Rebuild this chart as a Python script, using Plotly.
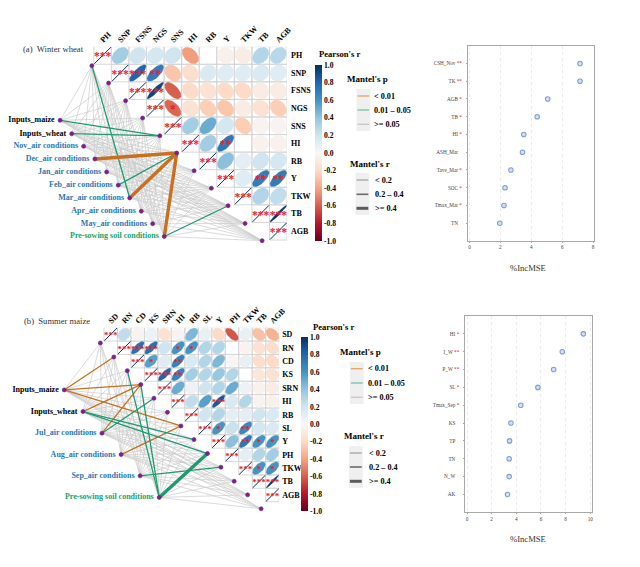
import numpy as np
import plotly.graph_objects as go

W, H = 640, 567
SERIF = "Liberation Serif"
STOPS = ["#67001f", "#b2182b", "#d6604d", "#f4a582", "#fddbc7", "#f7f7f7",
         "#d1e5f0", "#92c5de", "#4393c3", "#2166ac", "#053061"]
GREY, ORANGE, GREEN = "#cbcbcb", "#c8701f", "#1f9a70"
AIR, SOIL = "#2b78b5", "#18a36a"

# ---------- panel (a) winter wheat ----------
a_vars = ["PH", "SNP", "FSNS", "NGS", "SNS", "HI", "RB", "Y", "TKW", "TB", "AGB"]
a_r = [
    [.35, .20, .18, .20, -.42, 0, -.05, -.08, .30, .28],
    [.80, .70, -.28, -.18, .15, .12, .12, .15, .12],
    [.92, -.60, -.20, -.15, -.20, -.20, -.08, -.08],
    [-.58, -.15, -.25, -.28, -.08, -.15, -.25],
    [.35, .50, .18, -.25, -.03, -.03],
    [.35, .72, 0, -.04, -.04],
    [.42, .10, .20, .18],
    [.12, .70, .70],
    [.30, .25],
    [.97],
]
a_stars = {(1, 2): "***", (1, 3): "**", (2, 3): "***", (3, 4): "*", (5, 7): "**",
           (7, 9): "**", (7, 10): "**", (9, 10): "***"}
a_env = ["Inputs_maize", "Inputs_wheat", "Nov_air conditions", "Dec_air conditions",
         "Jan_air conditions", "Feb_air conditions", "Mar_air conditions",
         "Apr_air conditions", "May_air conditions", "Pre-sowing soil conditions"]
a_env_x = [-1.92, -1.26, -0.58, 0.06, 0.73, 1.39, 2.04, 2.70, 3.35, 4.01]
a_env_y = [4.19, 4.95, 5.67, 6.39, 7.13, 7.88, 8.61, 9.36, 10.07, 10.80]
a_spec_x = [-0.11, 0.84, 1.81, 2.78, 3.76, 4.72, 5.71, 6.69, 7.64, 8.61, 9.58]
a_spec_y = [1.08, 2.07, 3.07, 4.06, 5.07, 6.05, 7.06, 8.05, 9.05, 10.06, 11.04]
# (environment, variable, p class, r class)
a_links = [(6, 0, 1, 1), (0, 4, 1, 1), (1, 4, 1, 1), (3, 5, 0, 2), (5, 5, 1, 1),
           (6, 5, 0, 2), (9, 5, 0, 2), (9, 8, 1, 1)]
a_imp = ["CSH_Nov", "TK", "AGB", "TB", "HI", "ASH_Mar", "Tave_Mar", "SOC", "Tmax_Mar", "TN"]
a_imp_sig = ["**", "**", "*", "*", "*", "", "*", "*", "*", ""]
a_imp_val = [7.15, 7.15, 5.06, 4.38, 3.51, 3.43, 2.68, 2.30, 2.23, 1.96]

# ---------- panel (b) summer maize ----------
b_vars = ["SD", "RN", "CD", "KS", "SRN", "HI", "RB", "SL", "Y", "PH", "TKW", "TB", "AGB"]
b_r = [
    [.25, -.03, .06, -.15, -.03, .45, .08, -.20, -.62, .08, -.30, -.35],
    [.75, .75, .20, .60, .60, .30, .30, 0, -.03, -.15, -.18],
    [.55, .12, .68, .15, .30, .45, -.02, .08, -.18, -.20],
    [.80, .68, .35, .30, .38, .30, 0, -.12, -.15],
    [.50, .05, .20, .30, .50, .05, -.04, -.08],
    [.25, .55, .85, .15, .30, -.03, -.05],
    [.20, .30, .10, .10, .20, .15],
    [.60, .22, .65, .18, .15],
    [.42, .72, .60, .60],
    [.10, .30, .35],
    [.60, .60],
    [.97],
]
b_stars = {(1, 2): "***", (1, 3): "***", (1, 5): "*", (1, 6): "*", (2, 3): "*", (2, 5): "**",
           (3, 4): "***", (3, 5): "**", (5, 8): "***", (7, 8): "*", (7, 10): "**", (8, 10): "**",
           (8, 11): "*", (8, 12): "*", (10, 11): "*", (10, 12): "*", (11, 12): "***"}
b_env = ["Inputs_maize", "Inputs_wheat", "Jul_air conditions", "Aug_air conditions",
         "Sep_air conditions", "Pre-sowing soil conditions"]
b_env_x = [-2.95, -1.56, -0.15, 1.27, 2.68, 4.10]
b_env_y = [4.65, 6.27, 7.88, 9.48, 11.07, 12.68]
b_spec_x = [-0.27, 0.73, 1.73, 2.73, 3.71, 4.71, 5.71, 6.68, 7.68, 8.68, 9.66, 10.66, 11.66]
b_spec_y = [1.14, 2.19, 3.21, 4.25, 5.27, 6.32, 7.34, 8.36, 9.40, 10.42, 11.47, 12.49, 13.53]
b_links = [(0, 3, 0, 1), (0, 1, 0, 1), (0, 6, 0, 1), (1, 3, 0, 1), (2, 3, 0, 1), (2, 4, 1, 1),
           (3, 6, 0, 1), (1, 7, 1, 1), (1, 8, 1, 1), (5, 2, 1, 1), (5, 3, 1, 1), (5, 8, 1, 2),
           (4, 9, 1, 1)]
b_imp = ["HI", "I_W", "P_W", "SL", "Tmax_Sep", "KS", "TP", "TN", "N_W", "AK"]
b_imp_sig = ["*", "**", "**", "*", "*", "", "", "", "", ""]
b_imp_val = [9.44, 7.73, 7.03, 5.75, 4.36, 3.56, 3.45, 3.42, 3.42, 3.29]

cbar_ticks = [round(-1 + .2 * i, 1) for i in range(11)]
p_labels = ["< 0.01", "0.01 – 0.05", ">= 0.05"]
r_labels = ["< 0.2", "0.2 – 0.4", ">= 0.4"]


def colour(r):
    t = (r + 1) / 2 * (len(STOPS) - 1)
    i = min(int(t), len(STOPS) - 2)
    f = t - i
    a = [int(STOPS[i][k:k + 2], 16) for k in (1, 3, 5)]
    b = [int(STOPS[i + 1][k:k + 2], 16) for k in (1, 3, 5)]
    return "rgb(%d,%d,%d)" % tuple(round(u + (v - u) * f) for u, v in zip(a, b))


SCALE = [[i / 10, c] for i, c in enumerate(STOPS)]
fig = go.Figure()
layout = {}
shapes, notes = [], []


def px(x):
    return x / W


def py(y):
    return 1 - y / H


def txt(x, y, s, size, bold=True, color="black", anchor="left"):
    notes.append(dict(x=px(x), y=py(y), xref="paper", yref="paper", showarrow=False,
                      text=f"<b>{s}</b>" if bold else s, xanchor=anchor, yanchor="middle",
                      font=dict(family=SERIF, size=size, color=color)))


def panel(n, vars_, r, stars, env, ex, ey, sx, sy, links, box, widths):
    """box = left, grid-left, grid-right, top, grid-bottom, axes-bottom in page pixels"""
    xa, ya = f"x{n}", f"y{n}"
    left, gl, gr, top, gb, bottom = box
    k = len(vars_)
    cw, ch = (gr - gl) / k, (gb - top) / k
    layout[f"xaxis{n}"] = dict(domain=[px(left), px(gr)], range=[-(gl - left) / cw, k], side="top",
                               anchor=ya, tickvals=[i + .5 for i in range(k)], ticktext=vars_,
                               tickangle=-45, showgrid=False, zeroline=False, ticklen=0, showline=False,
                               ticklabelshift=-2,
                               tickfont=dict(family=SERIF, size=widths["tick"], color="black", weight="bold"))
    layout[f"yaxis{n}"] = dict(domain=[py(bottom), py(top)], range=[(bottom - top) / ch, 0], side="right",
                               anchor=xa, tickvals=[i + .5 for i in range(k)], ticktext=vars_,
                               showgrid=False, zeroline=False, ticklen=0, showline=False,
                               ticklabelstandoff=widths["standoff"],
                               tickfont=dict(family=SERIF, size=widths["tick"], color="black", weight="bold"))
    # cell frames of the upper triangle
    fx, fy = [], []
    for i in range(k):
        for j in range(i, k):
            fx += [j, j + 1, j + 1, j, j, None]
            fy += [i, i, i + 1, i + 1, i, None]
    fig.add_trace(go.Scatter(x=fx, y=fy, mode="lines", line=dict(color="#d4d4d4", width=.9),
                             xaxis=xa, yaxis=ya, hoverinfo="skip", showlegend=False))
    # grey, non-significant Mantel links
    gx, gy = [], []
    hi = {(l[0], l[1]) for l in links}
    for e in range(len(env)):
        for s in range(k):
            if (e, s) not in hi:
                gx += [ex[e], sx[s], None]
                gy += [ey[e], sy[s], None]
    fig.add_trace(go.Scatter(x=gx, y=gy, mode="lines", line=dict(color=GREY, width=.7),
                             xaxis=xa, yaxis=ya, hoverinfo="skip", showlegend=False))
    # correlation ellipses
    t = np.linspace(0, 2 * np.pi, 41)
    cx, cy, cv = [], [], []
    for i, row in enumerate(r):
        for off, v in enumerate(row):
            j = i + 1 + off
            cx.append(j + .5)
            cy.append(i + .5)
            cv.append(v)
            if abs(v) < .005:
                continue
            d = np.arccos(v)
            fig.add_trace(go.Scatter(x=j + .5 + .47 * np.cos(t + d / 2), y=i + .5 - .47 * np.cos(t - d / 2),
                                     mode="lines", fill="toself", fillcolor=colour(v),
                                     line=dict(color=colour(v), width=.3), xaxis=xa, yaxis=ya,
                                     hoverinfo="skip", showlegend=False))
    # diagonal strokes
    dx, dy = [], []
    for i in range(k):
        dx += [i + .03, i + .97, None]
        dy += [i + .97, i + .03, None]
    fig.add_trace(go.Scatter(x=dx, y=dy, mode="lines", line=dict(color="#053061", width=1),
                             xaxis=xa, yaxis=ya, hoverinfo="skip", showlegend=False))
    # significance stars
    st = [(i, i, "***") for i in range(k)] + [(i, j, s) for (i, j), s in stars.items()]
    fig.add_trace(go.Scatter(x=[s[1] + .5 for s in st], y=[s[0] + .62 for s in st], text=[s[2] for s in st],
                             mode="text", textposition="middle center", cliponaxis=False,
                             textfont=dict(family=SERIF, size=widths["star"], color="#e8202a", weight="bold"),
                             xaxis=xa, yaxis=ya, hoverinfo="skip", showlegend=False))
    # significant links
    for e, s, pc, rc in links:
        fig.add_trace(go.Scatter(x=[ex[e], sx[s]], y=[ey[e], sy[s]], mode="lines",
                                 line=dict(color=[ORANGE, GREEN][pc], width=[.8, 1.3, 3.4][rc]),
                                 xaxis=xa, yaxis=ya, hoverinfo="skip", showlegend=False))
    # nodes and their labels
    fig.add_trace(go.Scatter(x=sx, y=sy, mode="markers", cliponaxis=False,
                             marker=dict(color="#a3126a", size=4, line=dict(color="#3a3ab5", width=.7)),
                             xaxis=xa, yaxis=ya, hoverinfo="skip", showlegend=False))
    ecol = ["black" if e.startswith("Inputs") else SOIL if e.startswith("Pre") else AIR for e in env]
    fig.add_trace(go.Scatter(x=ex, y=ey, mode="markers+text", text=[e + "\u00a0" for e in env],
                             textposition="middle left", cliponaxis=False,
                             textfont=dict(family=SERIF, size=widths["env"], color=ecol, weight="bold"),
                             marker=dict(color="#a3126a", size=4, line=dict(color="#3a3ab5", width=.7)),
                             xaxis=xa, yaxis=ya, hoverinfo="skip", showlegend=False))
    return cx, cy, cv, xa, ya


def colourbar(cx, cy, cv, xa, ya, x, y0, y1):
    fig.add_trace(go.Scatter(x=cx, y=cy, mode="markers", xaxis=xa, yaxis=ya, hoverinfo="skip", showlegend=False,
                             marker=dict(color=cv, cmin=-1, cmax=1, colorscale=SCALE, size=1, opacity=0,
                                         showscale=True,
                                         colorbar=dict(x=px(x), xanchor="left", xref="paper", y=py(y1), yanchor="bottom",
                                                       yref="paper", len=y1 - y0, lenmode="pixels", thickness=7,
                                                       outlinewidth=0, ticks="", tickvals=cbar_ticks,
                                                       ticktext=[f"{v:.1f}" for v in cbar_ticks], ypad=0, xpad=0,
                                                       tickfont=dict(family=SERIF, size=7.6, color="black", weight="bold")))))


def keybox(x0, y0, x1, y1, levels, labels, colors, lw, lx):
    shapes.append(dict(type="rect", xref="paper", yref="paper", x0=px(x0), x1=px(x1), y0=py(y0), y1=py(y1),
                       fillcolor="#efefef", line=dict(width=0), layer="below"))
    for yy, lab, c, w in zip(levels, labels, colors, lw):
        shapes.append(dict(type="line", xref="paper", yref="paper", x0=px(x0 + 1), x1=px(x1 - 1), y0=py(yy), y1=py(yy),
                           line=dict(color=c, width=w)))
        txt(lx, yy, lab, 8.2)


def dotplot(n, labels, sig, vals, box, xrange, ticks):
    xa, ya = f"x{n}", f"y{n}"
    l, r_, t, b = box
    layout[f"xaxis{n}"] = dict(domain=[px(l), px(r_)], range=xrange, anchor=ya, tickvals=ticks,
                               showgrid=True, gridcolor="#ececec", griddash="dot", gridwidth=.7, zeroline=False,
                               showline=True, linecolor="#a8a8a8", linewidth=1.3, mirror=True, ticks="outside",
                               ticklen=1, tickcolor="#a8a8a8", tickwidth=.5,
                               tickfont=dict(family=SERIF, size=5.2, color="#444444"))
    ticktext = [lab + (f' <span style="color:#e8202a">{s}</span>' if s else "\u00a0\u00a0\u00a0") for lab, s in zip(labels, sig)]
    layout[f"yaxis{n}"] = dict(domain=[py(b), py(t)], range=[len(labels), -1], anchor=xa,
                               tickvals=list(range(len(labels))), ticktext=ticktext, showgrid=False, zeroline=False,
                               showline=True, linecolor="#a8a8a8", linewidth=1.3, mirror=True, ticks="outside",
                               ticklen=1, tickcolor="#a8a8a8", tickwidth=.5, ticklabelstandoff=3,
                               tickfont=dict(family=SERIF, size=5.2, color="#444444"))
    fig.add_trace(go.Scatter(x=vals, y=list(range(len(labels))), mode="markers", xaxis=xa, yaxis=ya,
                             marker=dict(color="#d5e0f3", size=4.5, line=dict(color="#7f9fd2", width=1.1)),
                             hoverinfo="skip", showlegend=False))


ca = panel(1, a_vars, a_r, a_stars, a_env, a_env_x, a_env_y, a_spec_x, a_spec_y, a_links,
           (0, 95, 290.7, 46.7, 240, 250), dict(tick=8, star=11.5, env=8, standoff=3))
colourbar(*ca, 319.3, 65, 241)
cb = panel(2, b_vars, b_r, b_stars, b_env, b_env_x, b_env_y, b_spec_x, b_spec_y, b_links,
           (0, 105.3, 282.7, 327.7, 501.7, 512), dict(tick=8, star=9, env=8, standoff=2))
colourbar(*cb, 305.3, 337.3, 511.3)

dotplot(3, a_imp, a_imp_sig, a_imp_val, (474, 601.3, 45.7, 241), [-.09, 8.04], [0, 2, 4, 6, 8])
dotplot(4, b_imp, b_imp_sig, b_imp_val, (471.3, 599, 316, 512.3), [-.13, 10.1], [0, 2, 4, 6, 8, 10])

txt(21.7, 49, "(a)&nbsp;&nbsp;Winter wheat", 8.6, bold=False, color="#333333")
txt(22, 320.7, "(b)&nbsp;&nbsp;Summer maize", 8.6, bold=False, color="#333333")
txt(321, 54, "Pearson's r", 8.6)
txt(314.7, 327, "Pearson's r", 8.6)
txt(349, 79, "Mantel's p", 9)
txt(352.7, 163.7, "Mantel's r", 9)
txt(342.7, 351.7, "Mantel's p", 9)
txt(346, 436.3, "Mantel's r", 9)
txt(535, 268, "%IncMSE", 8.6, bold=False, color="#333333", anchor="center")
txt(535, 539, "%IncMSE", 8.6, bold=False, color="#333333", anchor="center")

pc = ["#e8a262", "#6fc4a4", "#c6c6c6"]
rc = ["#8c8c8c", "#6a6a6a", "#5a5a5a"]
keybox(361, 89, 375, 131, [96, 110, 124.3], p_labels, pc, [1.3, 1.3, 1.3], 377)
keybox(360, 172.7, 374, 215, [180, 194.3, 208.3], r_labels, rc, [1, 1.6, 3], 378)
keybox(354.3, 362, 368.3, 404, [368.7, 383, 397.3], p_labels, pc, [1.3, 1.3, 1.3], 371)
keybox(353.3, 446, 367.3, 488, [453, 467, 481.3], r_labels, rc, [1, 1.6, 3], 371.7)

fig.update_layout(width=W, height=H, autosize=False, margin=dict(l=0, r=0, t=0, b=0), paper_bgcolor="white",
                  plot_bgcolor="rgba(0,0,0,0)", showlegend=False, shapes=shapes, annotations=notes, **layout)
fig.write_html("out.html", config=dict(displayModeBar=False),
               post_script="document.body.style.margin='0';")
